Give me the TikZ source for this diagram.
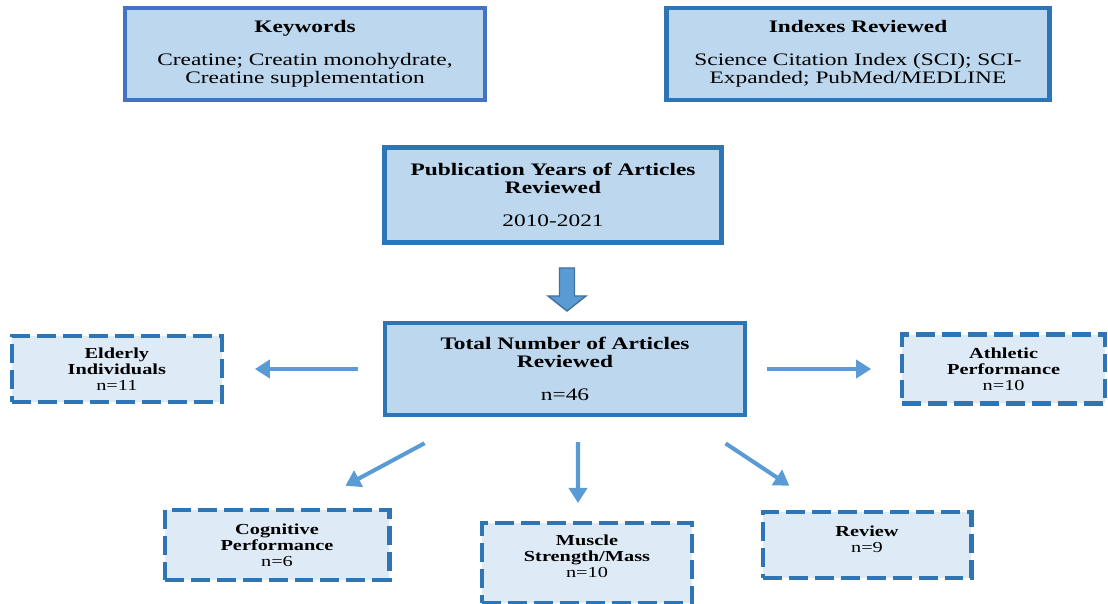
\documentclass[tikz,border=0pt]{standalone}
\usepackage{fontspec}
\setmainfont{Liberation Serif}[FakeStretch=1.33]
\usetikzlibrary{arrows.meta,positioning}
\definecolor{boxfill}{HTML}{BDD7EE}
\definecolor{lightfill}{HTML}{DEEBF7}
\definecolor{edgeblue}{HTML}{2E75B6}
\definecolor{keyblue}{HTML}{4472C4}
\definecolor{arrowblue}{HTML}{5B9BD5}
\definecolor{darkarrow}{HTML}{41719C}

\begin{document}
\begin{tikzpicture}[x=0.02cm, y=-0.02cm,
    mainbox/.style={draw=edgeblue, fill=boxfill, line width=2.5pt, minimum width=7.2cm, minimum height=1.84cm, align=center, inner sep=2pt, font=\fontsize{10pt}{10.5pt}\selectfont},
    dashbox/.style={draw=edgeblue, fill=lightfill, line width=2.3pt, dash pattern=on 0.38cm off 0.14cm, minimum width=4.2cm, minimum height=1.32cm, align=center, inner sep=2pt, font=\fontsize{8.7pt}{9.2pt}\selectfont},
    arrow/.style={draw=arrowblue, line width=2.3pt, -{Triangle[length=0.3cm, width=0.36cm]}}
]
    \useasboundingbox (0,0) rectangle (1108,604);

    % search terms and sources
    \node[mainbox, draw=keyblue] (keywords) at (305,54) {\textbf{Keywords}\\[8.3pt] Creatine; Creatin monohydrate,\\Creatine supplementation};
    \node[mainbox, minimum width=7.66cm] (indexes) at (858,54) {\textbf{Indexes Reviewed}\\[8.3pt] Science Citation Index (SCI); SCI-\\Expanded; PubMed/MEDLINE};

    % main boxes
    \node[mainbox] (total) at (565,369) {\textbf{Total Number of Articles}\\\textbf{Reviewed}\\[8.3pt] n=46};
    \node[mainbox, minimum width=6.74cm, minimum height=1.9cm, above=1.52cm of total, xshift=-0.24cm] (years) {\textbf{Publication Years of Articles}\\\textbf{Reviewed}\\[8.3pt] 2010-2021};

    % block arrow between them
    \draw[draw=darkarrow, fill=arrowblue, line width=0.8pt] (559.5,268) -- (574.5,268) -- (574.5,296) -- (586,296) -- (567,311) -- (548,296) -- (559.5,296) -- cycle;

    % groups
    \node[dashbox, left=3.18cm of total] (elderly) {\textbf{Elderly}\\\textbf{Individuals}\\n=11};
    \node[dashbox, minimum width=4.06cm, minimum height=1.38cm, right=3.06cm of total] (athletic) {\textbf{Athletic}\\\textbf{Performance}\\n=10};
    \node[dashbox, minimum width=4.5cm, minimum height=1.4cm] (cognitive) at (277,545) {\textbf{Cognitive}\\\textbf{Performance}\\n=6};
    \node[dashbox, minimum height=1.6cm] (muscle) at (587,563) {\textbf{Muscle}\\\textbf{Strength/Mass}\\n=10\\[-4pt]\strut};
    \node[dashbox, minimum width=4.18cm] (review) at (867,545) {\textbf{Review}\\n=9\\[-5pt]\strut};

    \draw[arrow, shorten <=0.5cm, shorten >=0.62cm] (total) -- (elderly);
    \draw[arrow, shorten <=0.4cm, shorten >=0.58cm] (total) -- (athletic);
    \draw[arrow, shorten <=1.1cm, shorten >=0.94cm] ([xshift=-1.84cm]total.south) -- ([xshift=0.54cm]cognitive.north);
    \draw[arrow, shorten <=0.5cm, shorten >=0.36cm] ([xshift=0.26cm]total.south) -- ([xshift=-0.18cm]muscle.north);
    \draw[arrow, shorten <=0.95cm, shorten >=0.88cm] ([xshift=2.42cm]total.south) -- ([xshift=-0.82cm]review.north);
\end{tikzpicture}
\end{document}
